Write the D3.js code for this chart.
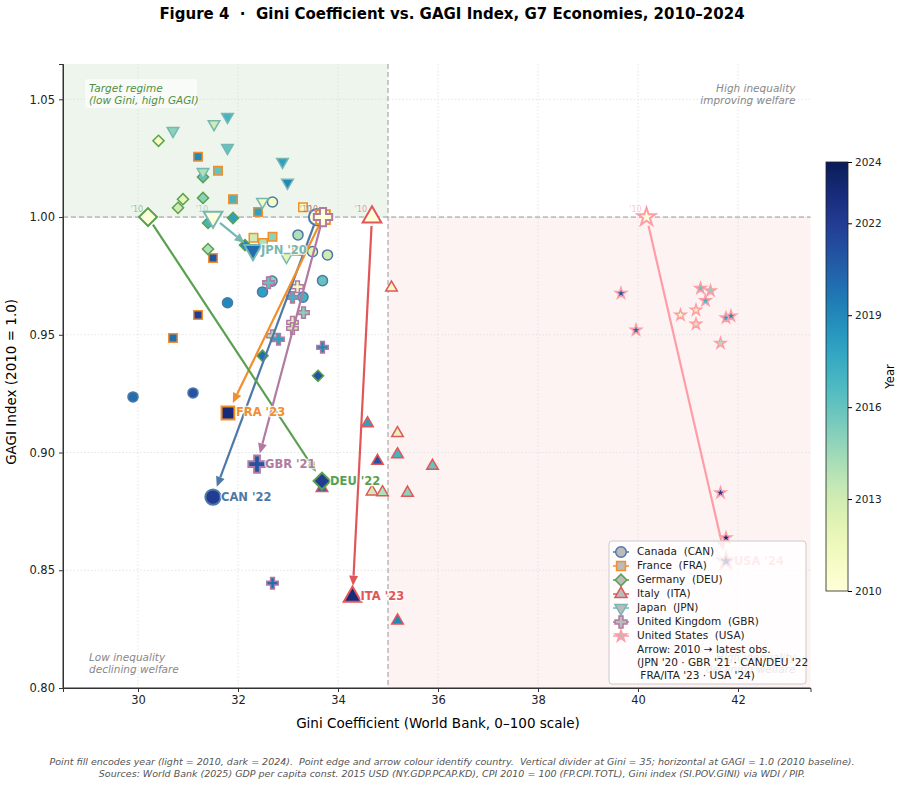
<!DOCTYPE html>
<html>
<head>
<meta charset="utf-8">
<script src="https://cdn.jsdelivr.net/npm/d3@7"></script>
<style>
  body { margin: 0; background: #fff; }
  text { font-family: "DejaVu Sans", sans-serif; white-space: pre; }
</style>
</head>
<body>
<div id="chart"></div>
<script>
// each row: [year, gini, gagi]
const CAN = [
  [2010, 33.58, 1.000], [2011, 32.69, 1.0064], [2012, 33.49, 0.9853], [2013, 33.79, 0.9839],
  [2014, 33.20, 0.9924], [2015, 32.68, 0.9728], [2016, 33.69, 0.9730], [2017, 33.30, 0.9660],
  [2018, 32.49, 0.9682], [2019, 31.79, 0.9636], [2020, 29.90, 0.9236], [2021, 31.10, 0.9253],
  [2022, 31.50, 0.8811]
];
const FRA = [
  [2010, 33.70, 1.000], [2011, 33.30, 1.0042], [2012, 33.18, 0.9856], [2013, 32.31, 0.9912],
  [2014, 32.50, 0.9890], [2015, 32.69, 0.9916], [2016, 31.60, 1.0197], [2017, 31.90, 1.0076],
  [2018, 32.40, 1.0021], [2019, 31.20, 1.0256], [2020, 30.70, 0.9486], [2021, 31.50, 0.9826],
  [2022, 31.20, 0.9584], [2023, 31.80, 0.9168]
];
const DEU = [
  [2010, 30.20, 1.000], [2011, 30.41, 1.0324], [2012, 30.90, 1.0076], [2013, 30.80, 1.0039],
  [2014, 31.40, 0.9864], [2015, 31.30, 1.0081], [2016, 31.30, 1.0170], [2017, 31.40, 0.9975],
  [2018, 31.90, 0.9996], [2019, 32.14, 0.9881], [2020, 32.49, 0.9411], [2021, 33.60, 0.9326],
  [2022, 33.68, 0.8879]
];
const ITA = [
  [2010, 34.68, 1.000], [2011, 35.07, 0.9700], [2012, 35.19, 0.9082], [2013, 34.68, 0.8834],
  [2014, 34.89, 0.8831], [2015, 35.39, 0.8829], [2016, 35.89, 0.8943], [2017, 35.19, 0.8992],
  [2018, 34.59, 0.9124], [2019, 35.19, 0.8286], [2020, 33.68, 0.8849], [2021, 34.79, 0.8964],
  [2023, 34.29, 0.8388]
];
const JPN = [
  [2010, 31.50, 1.000], [2011, 32.49, 1.0065], [2012, 32.97, 0.9831], [2013, 31.52, 1.0395],
  [2014, 31.30, 1.0192], [2015, 30.70, 1.0366], [2016, 31.79, 1.0294], [2017, 31.79, 1.0426],
  [2018, 32.89, 1.0235], [2019, 32.99, 1.0146], [2020, 32.30, 0.9860]
];
const GBR = [
  [2010, 33.70, 1.000], [2011, 33.19, 0.9704], [2012, 33.09, 0.9553], [2013, 33.09, 0.9527],
  [2014, 32.69, 0.9496], [2015, 33.31, 0.9594], [2016, 32.61, 0.9721], [2017, 33.09, 0.9659],
  [2018, 32.81, 0.9481], [2019, 33.69, 0.9447], [2020, 32.69, 0.8445], [2021, 32.38, 0.8951]
];
const USA = [
  [2010, 40.17, 1.000], [2011, 40.85, 0.9584], [2012, 41.16, 0.9605], [2013, 41.16, 0.9546],
  [2014, 41.65, 0.9464], [2015, 41.45, 0.9687], [2016, 41.25, 0.9697], [2017, 41.35, 0.9645],
  [2018, 41.76, 0.9572], [2019, 41.86, 0.9580], [2020, 39.96, 0.9520], [2021, 39.66, 0.9676],
  [2022, 41.65, 0.8829], [2023, 41.76, 0.8638], [2024, 41.76, 0.8539]
];

const xTicks = [30, 32, 34, 36, 38, 40, 42];
const yTicks = [0.80, 0.85, 0.90, 0.95, 1.00, 1.05];
const cbarTicks = [2010, 2013, 2016, 2019, 2022, 2024];
const giniDivider = 35;
const gagiBaseline = 1.0;

const countries = [
  { code: 'CAN', name: 'Canada', color: '#4e79a7', shape: 'circle', data: CAN },
  { code: 'FRA', name: 'France', color: '#f28e2b', shape: 'square', data: FRA },
  { code: 'DEU', name: 'Germany', color: '#59a14f', shape: 'diamond', data: DEU },
  { code: 'ITA', name: 'Italy', color: '#e15759', shape: 'triUp', data: ITA },
  { code: 'JPN', name: 'Japan', color: '#76b7b2', shape: 'triDown', data: JPN },
  { code: 'GBR', name: 'United Kingdom', color: '#b07aa1', shape: 'plus', data: GBR },
  { code: 'USA', name: 'United States', color: '#ff9da7', shape: 'star', data: USA }
];

const W = 901, H = 785;
const margin = { top: 64, right: 90.5, bottom: 97, left: 63 };
const pw = W - margin.left - margin.right;
const ph = H - margin.top - margin.bottom;

const svg = d3.select('#chart').append('svg')
  .attr('width', W).attr('height', H);

const x = d3.scaleLinear().domain([28.5, 43.45]).range([0, pw]);
const y = d3.scaleLinear().domain([0.80, 1.065]).range([ph, 0]);
const yearColor = yr => d3.interpolateYlGnBu((yr - 2010) / 14);

const symTypes = {
  circle: d3.symbolCircle, square: d3.symbolSquare, diamond: d3.symbolSquare,
  triUp: d3.symbolTriangle, triDown: d3.symbolTriangle, plus: d3.symbolCross, star: d3.symbolStar
};
const baseArea = { circle: 80, square: 72, diamond: 62, triUp: 58, triDown: 58, plus: 72, star: 38 };
const rotation = { diamond: 45, triDown: 180 };
const symPath = (shape, mult) => d3.symbol(symTypes[shape], baseArea[shape] * mult)();

// title
svg.append('text')
  .attr('x', 452).attr('y', 19)
  .attr('text-anchor', 'middle')
  .attr('font-size', 15).attr('font-weight', 'bold')
  .text('Figure 4  ·  Gini Coefficient vs. GAGI Index, G7 Economies, 2010–2024');

const g = svg.append('g').attr('transform', `translate(${margin.left},${margin.top})`);

// quadrant shading
g.append('rect')
  .attr('x', 0).attr('y', 0)
  .attr('width', x(giniDivider)).attr('height', y(gagiBaseline))
  .attr('fill', '#59a14f').attr('fill-opacity', 0.1);
g.append('rect')
  .attr('x', x(giniDivider)).attr('y', y(gagiBaseline))
  .attr('width', pw - x(giniDivider)).attr('height', ph - y(gagiBaseline))
  .attr('fill', '#e15759').attr('fill-opacity', 0.07);

// grid
g.append('g').selectAll('line').data(xTicks).join('line')
  .attr('x1', d => x(d)).attr('x2', d => x(d)).attr('y1', 0).attr('y2', ph)
  .attr('stroke', '#ddd').attr('stroke-width', 0.8).attr('stroke-dasharray', '1.5,2');
g.append('g').selectAll('line').data(yTicks).join('line')
  .attr('x1', 0).attr('x2', pw).attr('y1', d => y(d)).attr('y2', d => y(d))
  .attr('stroke', '#ddd').attr('stroke-width', 0.8).attr('stroke-dasharray', '1.5,2');

// dividers
g.append('line')
  .attr('x1', x(giniDivider)).attr('x2', x(giniDivider)).attr('y1', 0).attr('y2', ph)
  .attr('stroke', '#999').attr('stroke-width', 1).attr('stroke-dasharray', '5,3');
g.append('line')
  .attr('x1', 0).attr('x2', pw).attr('y1', y(gagiBaseline)).attr('y2', y(gagiBaseline))
  .attr('stroke', '#999').attr('stroke-width', 1).attr('stroke-dasharray', '5,3');

// quadrant notes
g.append('rect').attr('x', 22).attr('y', 15).attr('width', 112).attr('height', 29)
  .attr('fill', '#fff').attr('fill-opacity', 0.6).attr('rx', 3);
const note = (xp, yp, lines, anchor, color) => {
  const t = g.append('text').attr('x', xp).attr('y', yp)
    .attr('text-anchor', anchor).attr('font-size', 10.5)
    .attr('font-style', 'italic').attr('fill', color);
  lines.forEach((l, i) => t.append('tspan').attr('x', xp).attr('dy', i ? 12 : 0).text(l));
};
note(26, 28, ['Target regime', '(low Gini, high GAGI)'], 'start', '#4f8f45');
note(pw - 15, 28, ['High inequality', 'improving welfare'], 'end', '#888');
note(26, 597, ['Low inequality', 'declining welfare'], 'start', '#888');
note(pw - 15, 597, ['High inequality', 'declining welfare'], 'end', '#888');

// axes
const xAxis = g.append('g').attr('transform', `translate(0,${ph})`)
  .call(d3.axisBottom(x).tickValues(xTicks).tickSize(4).tickPadding(4));
const yAxis = g.append('g')
  .call(d3.axisLeft(y).tickValues(yTicks).tickFormat(d3.format('.2f')).tickSize(4).tickPadding(4));
[xAxis, yAxis].forEach(a => {
  a.selectAll('text').attr('font-size', 11.5).attr('fill', '#222')
    .attr('font-family', '"DejaVu Sans", sans-serif');
  a.select('.domain').attr('stroke', '#333');
  a.selectAll('.tick line').attr('stroke', '#333');
});

svg.append('text')
  .attr('x', margin.left + x(36)).attr('y', 728)
  .attr('text-anchor', 'middle').attr('font-size', 13.5)
  .text('Gini Coefficient (World Bank, 0–100 scale)');
svg.append('text')
  .attr('transform', `translate(16,${margin.top + y(0.93)}) rotate(-90)`)
  .attr('text-anchor', 'middle').attr('font-size', 13.5)
  .text('GAGI Index (2010 = 1.0)');

// regular points (all but first and last)
const pts = g.append('g');
countries.forEach(c => {
  c.data.slice(1, -1).forEach(d => {
    pts.append('path')
      .attr('d', symPath(c.shape, 1))
      .attr('transform', `translate(${x(d[1])},${y(d[2])}) rotate(${rotation[c.shape] || 0})`)
      .attr('fill', yearColor(d[0]))
      .attr('stroke', c.color).attr('stroke-width', 1.5);
  });
});

// arrows 2010 -> latest
const arr = g.append('g');
countries.forEach(c => {
  const a = c.data[0], b = c.data[c.data.length - 1];
  const x0 = x(a[1]), y0 = y(a[2]), x1 = x(b[1]), y1 = y(b[2]);
  const len = Math.hypot(x1 - x0, y1 - y0);
  const ux = (x1 - x0) / len, uy = (y1 - y0) / len;
  const sx = x0 + ux * 9, sy = y0 + uy * 9;
  const tx = x1 - ux * 11, ty = y1 - uy * 11;
  const hl = 10, hw = 4.5;
  const bx = tx - ux * hl, by = ty - uy * hl;
  arr.append('line')
    .attr('x1', sx).attr('y1', sy).attr('x2', bx).attr('y2', by)
    .attr('stroke', c.color).attr('stroke-width', 2.2);
  arr.append('path')
    .attr('d', `M${tx},${ty}L${bx - uy * hw},${by + ux * hw}L${bx + uy * hw},${by - ux * hw}Z`)
    .attr('fill', c.color);
});

// start and end markers with labels
const ends = g.append('g');
countries.forEach(c => {
  const a = c.data[0], b = c.data[c.data.length - 1];
  ends.append('path')
    .attr('d', symPath(c.shape, 2.6))
    .attr('transform', `translate(${x(a[1])},${y(a[2])}) rotate(${rotation[c.shape] || 0})`)
    .attr('fill', yearColor(a[0])).attr('stroke', c.color).attr('stroke-width', 2);
  ends.append('text')
    .attr('x', x(a[1]) - 11).attr('y', y(a[2]) - 5)
    .attr('text-anchor', 'middle').attr('font-size', 8)
    .attr('fill', c.color).attr('fill-opacity', 0.6)
    .text("'10");
  ends.append('path')
    .attr('d', symPath(c.shape, 2.3))
    .attr('transform', `translate(${x(b[1])},${y(b[2])}) rotate(${rotation[c.shape] || 0})`)
    .attr('fill', yearColor(b[0])).attr('stroke', c.color).attr('stroke-width', 2);
  ends.append('text')
    .attr('x', x(b[1]) + 8).attr('y', y(b[2]))
    .attr('dominant-baseline', 'middle')
    .attr('font-size', 11.5).attr('font-weight', 'bold')
    .attr('fill', c.color)
    .attr('stroke', '#fff').attr('stroke-width', 2.5).attr('stroke-opacity', 0.8)
    .attr('paint-order', 'stroke')
    .text(`${c.code} '${String(b[0]).slice(2)}`);
});

// spines drawn on top of shading
g.append('line').attr('x1', 0).attr('x2', 0).attr('y1', 0).attr('y2', ph).attr('stroke', '#333');
g.append('line').attr('x1', 0).attr('x2', pw).attr('y1', ph).attr('y2', ph).attr('stroke', '#333');

// legend
const lg = svg.append('g').attr('transform', 'translate(609,541)');
lg.append('rect').attr('width', 197).attr('height', 143).attr('rx', 3)
  .attr('fill', '#fff').attr('fill-opacity', 0.8)
  .attr('stroke', '#ccc');
countries.forEach((c, i) => {
  const yy = 11 + i * 14;
  lg.append('line').attr('x1', 4).attr('x2', 20).attr('y1', yy).attr('y2', yy)
    .attr('stroke', c.color).attr('stroke-width', 1.5);
  lg.append('path')
    .attr('d', symPath(c.shape, 1.1))
    .attr('transform', `translate(12,${yy}) rotate(${rotation[c.shape] || 0})`)
    .attr('fill', '#bbb').attr('stroke', c.color).attr('stroke-width', 1.5);
  lg.append('text').attr('x', 28).attr('y', yy).attr('dominant-baseline', 'middle')
    .attr('font-size', 10.5).attr('fill', '#222')
    .text(`${c.name}  (${c.code})`);
});
['Arrow: 2010 → latest obs.', "(JPN '20 · GBR '21 · CAN/DEU '22", " FRA/ITA '23 · USA '24)"]
  .forEach((l, i) => {
    lg.append('text').attr('x', 28).attr('y', 109 + i * 13).attr('dominant-baseline', 'middle')
      .attr('font-size', 10.5).attr('fill', '#222')
      .text(l);
  });

// colorbar
const cb = { x: 826, y: 162, w: 22, h: 429 };
const defs = svg.append('defs');
const grad = defs.append('linearGradient').attr('id', 'cbar')
  .attr('x1', 0).attr('x2', 0).attr('y1', 1).attr('y2', 0);
d3.range(0, 1.0001, 0.05).forEach(t => {
  grad.append('stop').attr('offset', t).attr('stop-color', d3.interpolateYlGnBu(t));
});
svg.append('rect').attr('x', cb.x).attr('y', cb.y).attr('width', cb.w).attr('height', cb.h)
  .attr('fill', 'url(#cbar)').attr('stroke', '#222').attr('stroke-width', 0.8);
const cy = d3.scaleLinear().domain([2010, 2024]).range([cb.y + cb.h, cb.y]);
svg.append('g').attr('transform', `translate(${cb.x + cb.w},0)`)
  .call(d3.axisRight(cy).tickValues(cbarTicks).tickFormat(d3.format('d')).tickSize(4).tickPadding(3))
  .call(a => a.select('.domain').remove())
  .call(a => a.selectAll('text').attr('font-size', 10.5).attr('fill', '#222')
    .attr('font-family', '"DejaVu Sans", sans-serif'));
svg.append('text')
  .attr('transform', `translate(894,${cb.y + cb.h / 2}) rotate(-90)`)
  .attr('text-anchor', 'middle').attr('font-size', 11.5)
  .text('Year');

// footer
const foot = [
  'Point fill encodes year (light = 2010, dark = 2024).  Point edge and arrow colour identify country.  Vertical divider at Gini = 35; horizontal at GAGI = 1.0 (2010 baseline).',
  'Sources: World Bank (2025) GDP per capita const. 2015 USD (NY.GDP.PCAP.KD), CPI 2010 = 100 (FP.CPI.TOTL), Gini index (SI.POV.GINI) via WDI / PIP.'
];
foot.forEach((l, i) => {
  svg.append('text').attr('x', 452).attr('y', 765 + i * 12)
    .attr('text-anchor', 'middle').attr('font-size', 9.5)
    .attr('font-style', 'italic').attr('fill', '#555')
    .text(l);
});
</script>
</body>
</html>
